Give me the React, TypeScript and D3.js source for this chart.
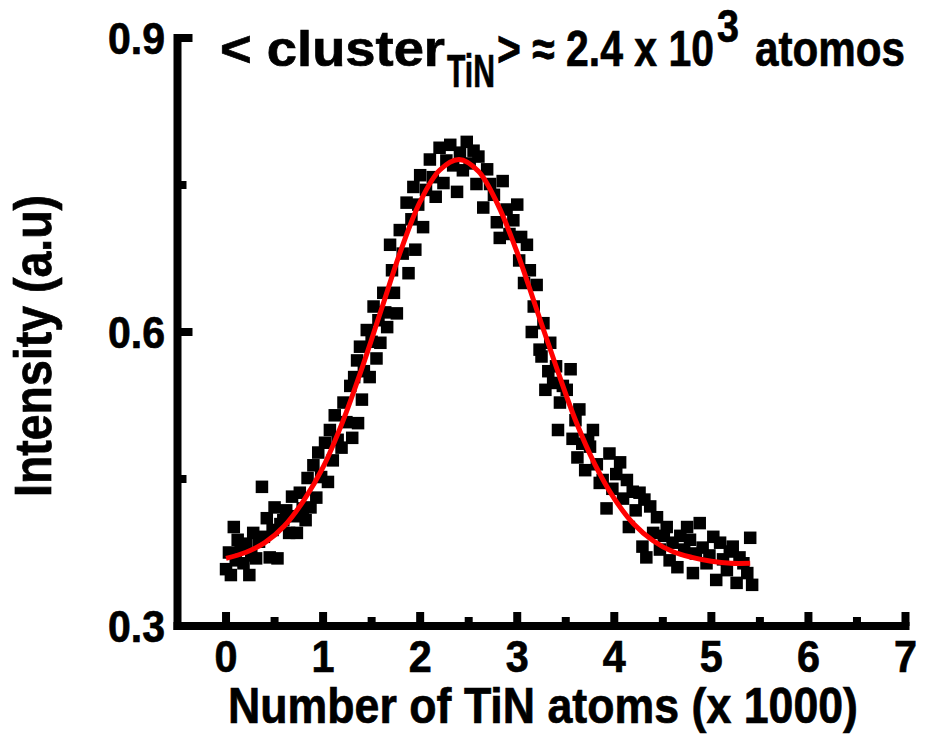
import { useMemo } from "react";
import * as d3 from "d3";

const W = 927;
const H = 746;

// measured points: [x (thousands of atoms), intensity]
const measured: [number, number][] = [
  [0.00, 0.358], [0.03, 0.375], [0.05, 0.352], [0.08, 0.401], [0.10, 0.367],
  [0.12, 0.388], [0.15, 0.380], [0.18, 0.364], [0.21, 0.384], [0.24, 0.352],
  [0.26, 0.372], [0.28, 0.395], [0.31, 0.369], [0.34, 0.386], [0.37, 0.442],
  [0.39, 0.391], [0.42, 0.410], [0.45, 0.370], [0.48, 0.398], [0.50, 0.421],
  [0.53, 0.369], [0.56, 0.404], [0.59, 0.408], [0.62, 0.418], [0.65, 0.395],
  [0.68, 0.432], [0.71, 0.412], [0.73, 0.395], [0.76, 0.436], [0.79, 0.420],
  [0.82, 0.408], [0.84, 0.451], [0.87, 0.421], [0.90, 0.464], [0.93, 0.431],
  [0.95, 0.477], [0.98, 0.452], [1.02, 0.487], [1.05, 0.447], [1.07, 0.500],
  [1.10, 0.469], [1.12, 0.515], [1.15, 0.490], [1.19, 0.482], [1.21, 0.528],
  [1.24, 0.508], [1.28, 0.545], [1.30, 0.492], [1.32, 0.554], [1.35, 0.571],
  [1.36, 0.507], [1.38, 0.585], [1.40, 0.531], [1.42, 0.560], [1.45, 0.602],
  [1.48, 0.554], [1.50, 0.590], [1.52, 0.626], [1.55, 0.573], [1.57, 0.612],
  [1.59, 0.589], [1.62, 0.640], [1.64, 0.620], [1.66, 0.605], [1.69, 0.689],
  [1.71, 0.663], [1.73, 0.640], [1.76, 0.619], [1.79, 0.704], [1.82, 0.680],
  [1.86, 0.732], [1.88, 0.660], [1.91, 0.715], [1.93, 0.748], [1.95, 0.684],
  [1.98, 0.730], [2.00, 0.760], [2.03, 0.707], [2.06, 0.745], [2.10, 0.776],
  [2.13, 0.758], [2.16, 0.738], [2.20, 0.788], [2.24, 0.752], [2.27, 0.775],
  [2.31, 0.791], [2.34, 0.770], [2.38, 0.743], [2.41, 0.783], [2.44, 0.765],
  [2.48, 0.794], [2.51, 0.772], [2.55, 0.785], [2.58, 0.751], [2.60, 0.779],
  [2.65, 0.727], [2.69, 0.766], [2.72, 0.751], [2.76, 0.740], [2.79, 0.712],
  [2.82, 0.696], [2.85, 0.754], [2.89, 0.725], [2.92, 0.700], [2.96, 0.714],
  [3.00, 0.730], [3.02, 0.673], [3.04, 0.697], [3.07, 0.650], [3.10, 0.689],
  [3.13, 0.663], [3.15, 0.600], [3.17, 0.626], [3.20, 0.648], [3.23, 0.582],
  [3.25, 0.575], [3.27, 0.609], [3.29, 0.541], [3.32, 0.560], [3.34, 0.589],
  [3.37, 0.548], [3.40, 0.565], [3.42, 0.500], [3.44, 0.528], [3.47, 0.545],
  [3.51, 0.541], [3.55, 0.562], [3.57, 0.491], [3.60, 0.510], [3.62, 0.472],
  [3.64, 0.521], [3.67, 0.486], [3.70, 0.459], [3.73, 0.490], [3.75, 0.483],
  [3.78, 0.500], [3.82, 0.465], [3.85, 0.446], [3.88, 0.449], [3.92, 0.420],
  [3.95, 0.476], [3.98, 0.440], [4.02, 0.455], [4.06, 0.467], [4.09, 0.430],
  [4.13, 0.449], [4.15, 0.401], [4.19, 0.437], [4.22, 0.418], [4.26, 0.436],
  [4.29, 0.381], [4.31, 0.429], [4.33, 0.370], [4.37, 0.422], [4.40, 0.395],
  [4.44, 0.411], [4.47, 0.378], [4.51, 0.392], [4.54, 0.401], [4.57, 0.367],
  [4.60, 0.385], [4.65, 0.360], [4.68, 0.392], [4.72, 0.378], [4.75, 0.401],
  [4.78, 0.388], [4.81, 0.354], [4.84, 0.374], [4.88, 0.405], [4.91, 0.380],
  [4.95, 0.364], [4.98, 0.372], [5.02, 0.391], [5.05, 0.347], [5.09, 0.385],
  [5.12, 0.368], [5.16, 0.357], [5.19, 0.376], [5.22, 0.381], [5.26, 0.344],
  [5.29, 0.370], [5.33, 0.364], [5.37, 0.354], [5.40, 0.390], [5.42, 0.342],
];

// gaussian fit
const fitX = [0, 0.2, 0.4, 0.6, 0.8, 1.0, 1.2, 1.4, 1.6, 1.8, 2.0, 2.2, 2.4, 2.6,
  2.8, 3.0, 3.2, 3.4, 3.6, 3.8, 4.0, 4.2, 4.4, 4.6, 4.8, 5.0, 5.2, 5.4];
const fitY = [0.369, 0.375, 0.385, 0.402, 0.428, 0.462, 0.508, 0.563, 0.623, 0.683,
  0.733, 0.765, 0.776, 0.764, 0.730, 0.681, 0.623, 0.565, 0.510, 0.465, 0.430,
  0.404, 0.387, 0.376, 0.370, 0.366, 0.364, 0.364];

const xMajor = [0, 1, 2, 3, 4, 5, 6, 7];
const xMinor = [0.5, 1.5, 2.5, 3.5, 4.5, 5.5, 6.5];
const yMajor = [0.3, 0.6, 0.9];
const yMinor = [0.45, 0.75];

const FONT = "'Liberation Sans', Arial, Helvetica, sans-serif";

export default function App() {
  const x = useMemo(() => d3.scaleLinear().domain([-0.5, 7]).range([177.5, 905.5]), []);
  const y = useMemo(() => d3.scaleLinear().domain([0.3, 0.9]).range([626, 38]), []);

  const fitPath = d3
    .line<number>()
    .x((_, i) => x(fitX[i]))
    .y((d) => y(d))
    .curve(d3.curveCatmullRom)(fitY) || "";

  const axisW = 8;
  const sq = 12.5;

  // heavier, condensed look of the original bold text
  const txt = { fontFamily: FONT, fontWeight: "bold", fill: "#000", stroke: "#000", strokeWidth: 0.7 } as const;

  return (
    <div style={{ position: "absolute", left: 0, top: 0 }}>
      <svg width={W} height={H} style={{ display: "block", background: "#fff" }}>
        {/* data squares */}
        <g fill="#000">
          {measured.map(([px, py], i) => (
            <rect key={i} x={x(px) - sq / 2} y={y(py) - sq / 2} width={sq} height={sq} />
          ))}
        </g>

        {/* fit */}
        <path d={fitPath} fill="none" stroke="#ff0000" strokeWidth={5} />

        {/* axes */}
        <g stroke="#000" strokeWidth={axisW} strokeLinecap="butt">
          <line x1={x(-0.5)} x2={x(-0.5)} y1={y(0.9) - 4} y2={y(0.3) + 4} />
          <line x1={x(-0.5) - 4} x2={x(7) + 4} y1={y(0.3)} y2={y(0.3)} />
          {xMajor.map((t) => (
            <line key={"xM" + t} x1={x(t)} x2={x(t)} y1={y(0.3)} y2={y(0.3) - 14} />
          ))}
          {xMinor.map((t) => (
            <line key={"xm" + t} x1={x(t)} x2={x(t)} y1={y(0.3)} y2={y(0.3) - 9} />
          ))}
          {yMajor.map((t) => (
            <line key={"yM" + t} x1={x(-0.5)} x2={x(-0.5) + 15} y1={y(t)} y2={y(t)} />
          ))}
          {yMinor.map((t) => (
            <line key={"ym" + t} x1={x(-0.5)} x2={x(-0.5) + 9} y1={y(t)} y2={y(t)} />
          ))}
        </g>

        {/* tick labels */}
        <g {...txt} fontSize={45}>
          {xMajor.map((t) => (
            <text key={"xl" + t} x={x(t)} y={672} textAnchor="middle" textLength={23} lengthAdjust="spacingAndGlyphs">
              {t}
            </text>
          ))}
          {yMajor.map((t) => (
            <text key={"yl" + t} x={108} y={y(t) + 16} textLength={57} lengthAdjust="spacingAndGlyphs">
              {t.toFixed(1)}
            </text>
          ))}
        </g>

        {/* axis titles */}
        <text {...txt} x={228} y={723} fontSize={50} textLength={630} lengthAdjust="spacingAndGlyphs">
          Number of TiN atoms (x 1000)
        </text>
        <text {...txt} transform="translate(51,497) rotate(-90)" fontSize={51}
          textLength={302} lengthAdjust="spacingAndGlyphs">
          Intensity (a.u)
        </text>

        {/* title */}
        <g {...txt}>
          <text x={220} y={66} fontSize={50} textLength={225} lengthAdjust="spacingAndGlyphs">{"< cluster"}</text>
          <text x={447} y={87} fontSize={47} textLength={48} lengthAdjust="spacingAndGlyphs">TiN</text>
          <text x={497} y={66} fontSize={50} textLength={217} lengthAdjust="spacingAndGlyphs">{"> \u2248 2.4 x 10"}</text>
          <text x={717} y={42} fontSize={46} textLength={22} lengthAdjust="spacingAndGlyphs">3</text>
          <text x={755} y={66} fontSize={50} textLength={150} lengthAdjust="spacingAndGlyphs">atomos</text>
        </g>
      </svg>
    </div>
  );
}
